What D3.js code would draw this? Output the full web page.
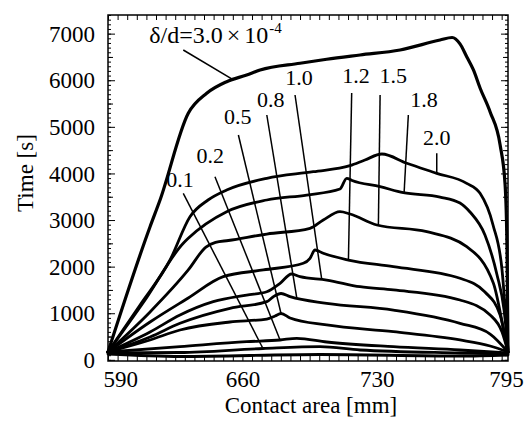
<!DOCTYPE html>
<html>
<head>
<meta charset="utf-8">
<script src="https://cdn.jsdelivr.net/npm/d3@7"></script>
<style>
  html, body { margin: 0; padding: 0; background: #fff; }
  svg { display: block; }
  text { font-family: "Liberation Serif", "Times New Roman", serif; fill: #000; }
</style>
</head>
<body>
<svg id="chart" width="532" height="424"></svg>
<script>
// Time to reach each contact area, one series per gap ratio δ/d.
// Each series: [contact area (mm), time (s)]
const ratio3e4 = [[590,168],[611.9,2857],[617.1,3430],[631.8,5291],[641.4,5720],[651.8,5969],[662.2,6113],[669.2,6220],[690,6364],[703.9,6450],[721.25,6542],[742.1,6649],[762.9,6864],[769.2,6917],[773.3,6780],[776.8,6505],[780.3,6220],[783.75,5834],[789,5319],[794.2,4610],[796.8,3752],[797.8,2357],[798.3,168]];
const ratio20 = [[590,168],[606.7,1177],[622.3,2142],[632.7,3072],[642.1,3430],[651.8,3645],[672.7,3896],[696.9,4037],[716,4166],[723.8,4288],[732.6,4417],[745.6,4218],[761.2,4003],[776.8,3788],[783.75,3574],[790.5,2894],[795.2,1928],[798.3,211]];
const ratio18 = [[590,168],[609.3,1284],[629.2,2501],[631.8,2608],[651.8,3179],[672.7,3430],[693.5,3537],[710.8,3666],[714.3,3896],[717.1,3848],[731.7,3716],[743.8,3587],[762.9,3494],[773.3,3366],[778.5,3173],[786.3,2679],[792.6,1821],[796.25,1069],[798.3,211]];
const ratio15 = [[590,168],[611.9,1027],[631.8,1928],[641,2420],[646,2520],[652.7,2561],[672.7,2700],[695.2,2823],[702.1,3001],[710.8,3179],[716,3130],[730,2894],[756,2750],[776.8,2428],[790.7,1642],[797.7,282],[798.3,168]];
const ratio12 = [[590,168],[611.9,812],[631.8,1327],[650,1784],[670.9,1928],[691.7,2072],[695.2,2179],[697.8,2357],[702.1,2286],[715.2,2142],[738.6,1999],[773.3,1750],[786.3,1456],[794.2,962],[798.3,168]];
const ratio10 = [[590,168],[611.9,597],[627.5,962],[644.8,1248],[662.2,1391],[672.7,1462],[679.6,1642],[685.6,1842],[690,1784],[703.9,1713],[721.25,1569],[738.6,1499],[773.3,1284],[789,962],[795.2,597],[798.3,168]];
const ratio08 = [[590,168],[611.9,490],[627.5,784],[653.5,1106],[672.7,1248],[676.1,1355],[680.1,1424],[684.8,1355],[703.9,1213],[738.6,1069],[773.3,784],[789,554],[798.3,168]];
const ratio05 = [[590,168],[611.9,426],[627.5,640],[653.5,812],[672.7,876],[677,941],[680.1,994],[684.8,898],[703.9,748],[738.6,604],[773.3,426],[789,297],[798.3,168]];
const ratio02 = [[590,168],[627.5,282],[662.2,389],[679.6,426],[688.3,462],[703.9,383],[738.6,282],[773.3,211],[798.3,147]];
const ratio01 = [[590,147],[627.5,157],[670.7,243],[700.4,282],[721.25,211],[773.3,147],[798.3,125]];
const ratio00 = [[590,125],[627.5,72],[700.4,114],[773.3,82],[798.3,104]];

const allSeries = [ratio3e4, ratio20, ratio18, ratio15, ratio12, ratio10, ratio08, ratio05, ratio02, ratio01, ratio00];

const xTickValues = [590, 660, 730, 795];
const yTickValues = [0, 1000, 2000, 3000, 4000, 5000, 6000, 7000];
const xTitle = "Contact area [mm]";
const yTitle = "Time [s]";

// Curve labels: text, where the text sits, where its leader starts,
// and the contact area at which the leader meets its curve.
const curveNotes = [
  { text: "0.1", series: ratio01, tx: 627.5, ty: 3716, lx: 629.2, ly: 3574, at: 670.7 },
  { text: "0.2", series: ratio02, tx: 643.3, ty: 4218, lx: 645.7, ly: 3930, at: 679.6 },
  { text: "0.5", series: ratio05, tx: 657.6, ty: 5061, lx: 657.9, ly: 4825, at: 680.1 },
  { text: "0.8", series: ratio08, tx: 674.8, ty: 5432, lx: 672.7, ly: 5254, at: 688.3 },
  { text: "1.0", series: ratio10, tx: 689.5, ty: 5898, lx: 687.4, ly: 5683, at: 701.3 },
  { text: "1.2", series: ratio12, tx: 719.1, ty: 5935, lx: 716.9, ly: 5726, at: 715.2 },
  { text: "1.5", series: ratio15, tx: 738.6, ty: 5935, lx: 731.7, ly: 5683, at: 730.8 },
  { text: "1.8", series: ratio18, tx: 754.6, ty: 5432, lx: 746.4, ly: 5254, at: 744.2 },
  { text: "2.0", series: ratio20, tx: 761.2, ty: 4610, lx: 761.2, ly: 4432, at: 761.2 }
];
const topNote = { series: ratio3e4, tx: 611.5, ty: 6793, lx: 629.2, ly: 6649, at: 655.1 };

// ---- layout ----
const svg = d3.select("#chart");
const padLeft = 108, padTop = 15, innerW = 400, innerH = 346;

const x = d3.scaleLinear().domain([590, 798.3]).range([0, innerW]);
const y = d3.scaleLinear().domain([-25, 7400]).range([innerH, 0]);

const g = svg.append("g").attr("transform", `translate(${padLeft},${padTop})`);

function valueAt(series, xv) {
  for (let i = 1; i < series.length; i++) {
    const [x0, y0] = series[i - 1], [x1, y1] = series[i];
    if (xv >= x0 && xv <= x1) return y0 + (y1 - y0) * (xv - x0) / (x1 - x0);
  }
  return series[series.length - 1][1];
}

// minor / major ticks, all pointing into the plot
function tickAxis(axis, pos, values, size) {
  const a = g.append("g").attr("transform", pos)
    .call(axis.tickValues(values).tickSize(-size).tickFormat(""));
  a.select(".domain").remove();
  a.selectAll("line").attr("stroke", "#000").attr("stroke-width", 1);
  return a;
}
const xMinor = d3.range(590, 798, 5);
const yMinor = d3.range(0, 7401, 100);
const yMid = d3.range(500, 7401, 1000);

tickAxis(d3.axisBottom(x), `translate(0,${innerH})`, xMinor, 5);
tickAxis(d3.axisTop(x), `translate(0,0)`, xMinor, 5);
tickAxis(d3.axisLeft(y), `translate(0,0)`, yMinor, 3);
tickAxis(d3.axisLeft(y), `translate(0,0)`, yMid, 5);
tickAxis(d3.axisLeft(y), `translate(0,0)`, yTickValues, 7);
tickAxis(d3.axisRight(y), `translate(${innerW},0)`, yMinor, 3);
tickAxis(d3.axisRight(y), `translate(${innerW},0)`, yMid, 5);
tickAxis(d3.axisRight(y), `translate(${innerW},0)`, yTickValues, 7);

// tick labels; the two end labels are pulled inward from their ticks
const xLab = g.append("g").attr("transform", `translate(0,${innerH})`)
  .call(d3.axisBottom(x).tickValues(xTickValues).tickSize(0).tickPadding(9.5).tickFormat(d3.format("d")));
xLab.select(".domain").remove();
xLab.selectAll("text").attr("font-size", 23).attr("font-family", null)
  .each(function (d) {
    const t = d3.select(this);
    if (d === 590) t.attr("text-anchor", "start").attr("x", -5);
    if (d === 795) t.attr("text-anchor", "end").attr("x", 21.5);
  });

const yLab = g.append("g")
  .call(d3.axisLeft(y).tickValues(yTickValues).tickSize(0).tickPadding(13).tickFormat(d3.format("d")));
yLab.select(".domain").remove();
yLab.selectAll("text").attr("font-size", 23).attr("font-family", null).attr("dy", "0.33em");

// frame
g.append("rect").attr("x", 0).attr("y", 0).attr("width", innerW).attr("height", innerH)
  .attr("fill", "none").attr("stroke", "#000").attr("stroke-width", 1.5);

// curves
const line = d3.line().x(d => x(d[0])).y(d => y(d[1])).curve(d3.curveMonotoneX);
g.append("g").selectAll("path").data(allSeries).join("path")
  .attr("d", line)
  .attr("fill", "none").attr("stroke", "#000")
  .attr("stroke-width", (d, i) => i === 0 ? 3.2 : 2.8)
  .attr("stroke-linejoin", "round").attr("stroke-linecap", "round");

// leaders and labels
const notes = g.append("g");
curveNotes.forEach(n => {
  notes.append("line")
    .attr("x1", x(n.lx)).attr("y1", y(n.ly))
    .attr("x2", x(n.at)).attr("y2", y(valueAt(n.series, n.at)))
    .attr("stroke", "#000").attr("stroke-width", 1.5);
  notes.append("text").attr("x", x(n.tx)).attr("y", y(n.ty))
    .attr("text-anchor", "middle").attr("font-size", 22).text(n.text);
});

notes.append("line")
  .attr("x1", x(topNote.lx)).attr("y1", y(topNote.ly))
  .attr("x2", x(topNote.at)).attr("y2", y(valueAt(topNote.series, topNote.at)))
  .attr("stroke", "#000").attr("stroke-width", 1.5);
const tn = notes.append("text").attr("x", x(topNote.tx)).attr("y", y(topNote.ty)).attr("font-size", 24);
tn.append("tspan").text("δ/d=3.0");
tn.append("tspan").attr("dx", 4).text("×");
tn.append("tspan").attr("dx", 4).text("10");
tn.append("tspan").attr("font-size", 15).attr("dy", -10).attr("dx", 1).text("-4");

// axis titles
svg.append("text").attr("x", padLeft + 203).attr("y", 413)
  .attr("text-anchor", "middle").attr("font-size", 23).text(xTitle);
svg.append("text").attr("transform", "translate(33,173) rotate(-90)")
  .attr("text-anchor", "middle").attr("font-size", 23).text(yTitle);
</script>
</body>
</html>
